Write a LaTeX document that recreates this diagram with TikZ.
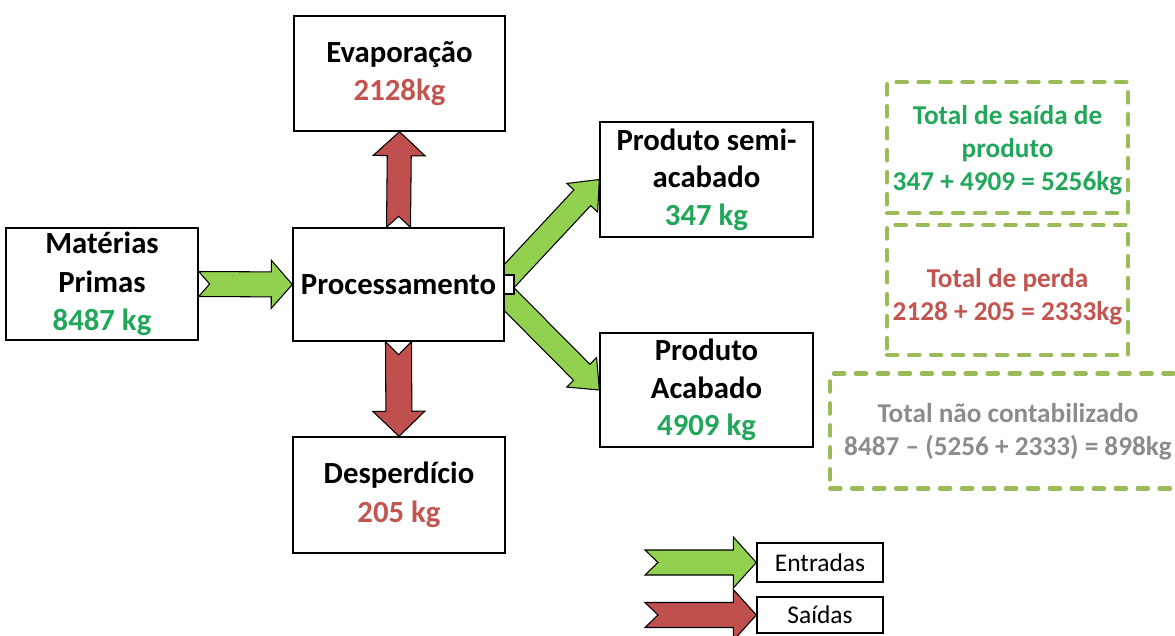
\documentclass[tikz,border=0pt]{standalone}
\usepackage{fontspec}
\setmainfont{Carlito}
\usetikzlibrary{calc,backgrounds}

\definecolor{arrowgreen}{RGB}{146,208,80}
\definecolor{arrowred}{RGB}{192,80,77}
\definecolor{txtgreen}{RGB}{33,167,90}
\definecolor{txtred}{RGB}{195,85,80}
\definecolor{txtgray}{RGB}{140,140,140}
\definecolor{dashgreen}{RGB}{155,187,89}

% block arrow: from, to, fill, shaft half width, head half width, head length, notch
\newcommand{\blockarrow}[7]{
    \coordinate (hb) at ($(#2)!#6!(#1)$);
    \filldraw[fill=#3, draw=black, line width=0.6pt]
        ($(#1)!#4!90:(#2)$) -- ($(hb)!#4!-90:(#1)$) -- ($(hb)!#5!-90:(#1)$) -- (#2)
        -- ($(hb)!#5!90:(#1)$) -- ($(hb)!#4!90:(#1)$) -- ($(#1)!#4!-90:(#2)$)
        -- ($(#1)!#7!(#2)$) -- cycle;
}

\begin{document}
\begin{tikzpicture}[x=0.02cm, y=-0.02cm,
    box/.style={draw=black, fill=white, line width=0.8pt, align=center, inner sep=0pt},
    bigtext/.style={font=\bfseries\fontsize{17.5}{22}\selectfont},
    prodtext/.style={font=\bfseries\fontsize{17.5}{21.3}\selectfont},
    total/.style={draw=dashgreen, line width=2.3pt, dash pattern=on 6pt off 6.5pt, line cap=round, inner sep=0pt},
    totaltext/.style={align=center, inner sep=0pt, font=\bfseries\fontsize{15.5}{18.7}\selectfont},
    legend/.style={draw=black, fill=white, line width=0.8pt, inner sep=0pt, minimum width=2.52cm, font=\fontsize{14.5}{17}\selectfont}]
    \useasboundingbox (0,0) rectangle (1175,635);

    \node[box, bigtext, minimum width=3.84cm, minimum height=2.24cm] (mat) at (102,284) {Matérias\\Primas\\\textcolor{txtgreen}{8487 kg}};
    \node[box, bigtext, minimum width=4.22cm, minimum height=2.26cm] (proc) at (398.5,284.5) {Processamento};
    \node[box, bigtext, minimum width=4.22cm, minimum height=2.3cm] (evap) at (399.5,73.5) {Evaporação\\\textcolor{txtred}{2128kg}};
    \node[box, bigtext, minimum width=4.24cm, minimum height=2.32cm] (desp) at (399,495) {Desperdício\\\textcolor{txtred}{205 kg}};
    \node[box, prodtext, minimum width=4.26cm, minimum height=2.3cm] (semi) at (706.5,179.5) {Produto semi-\\acabado\\\textcolor{txtgreen}{347 kg}};
    \node[box, prodtext, minimum width=4.26cm, minimum height=2.28cm] (acab) at (706.5,390) {Produto\\Acabado\\\textcolor{txtgreen}{4909 kg}};

    \node[total, minimum width=4.82cm, minimum height=2.62cm] (tot1) at (1007.5,147.5) {};
    \node[totaltext, text=txtgreen] (tot1txt) at ($(tot1.center)+(0,3)$) {Total de saída de\\produto\\347 + 4909 = 5256kg};
    \node[total, minimum width=4.82cm, minimum height=2.6cm] (tot2) at (1007.5,290) {};
    \node[totaltext, text=txtred] (tot2txt) at ($(tot2.center)+(0,7)$) {Total de perda\\2128 + 205 = 2333kg};
    \node[total, minimum width=7.12cm, minimum height=2.3cm] (tot3) at (1008,431) {};
    \node[totaltext, text=txtgray] (tot3txt) at ($(tot3.center)+(0,1)$) {Total não contabilizado\\8487 – (5256 + 2333) = 898kg};

    \node[legend, minimum height=0.78cm] (entr) at (820,562.5) {Entradas};
    \node[legend, minimum height=0.72cm] (said) at (820,615) {Saídas};

    \node[draw=black, fill=white, line width=0.6pt, inner sep=0pt, minimum width=0.2cm, minimum height=0.38cm] (mark) at (509,284.5) {};

    \coordinate (split) at (498,288);
    \coordinate (legin) at (645,562.5);
    \coordinate (legout) at (645,615);

    \begin{pgfonlayer}{background}
        \blockarrow{mat.east}{proc.west}{arrowgreen}{0.25cm}{0.48cm}{0.42cm}{0.22cm}
        \blockarrow{proc.north}{evap.south}{arrowred}{0.24cm}{0.52cm}{0.48cm}{0.22cm}
        \blockarrow{proc.south}{desp.north}{arrowred}{0.26cm}{0.52cm}{0.5cm}{0.26cm}
        \blockarrow{split}{semi.west}{arrowgreen}{0.23cm}{0.42cm}{0.5cm}{0.16cm}
        \blockarrow{split}{acab.west}{arrowgreen}{0.23cm}{0.42cm}{0.5cm}{0.16cm}
        \blockarrow{legin}{entr.west}{arrowgreen}{0.25cm}{0.51cm}{0.46cm}{0.26cm}
        \blockarrow{legout}{said.west}{arrowred}{0.25cm}{0.51cm}{0.46cm}{0.26cm}
    \end{pgfonlayer}
\end{tikzpicture}
\end{document}
